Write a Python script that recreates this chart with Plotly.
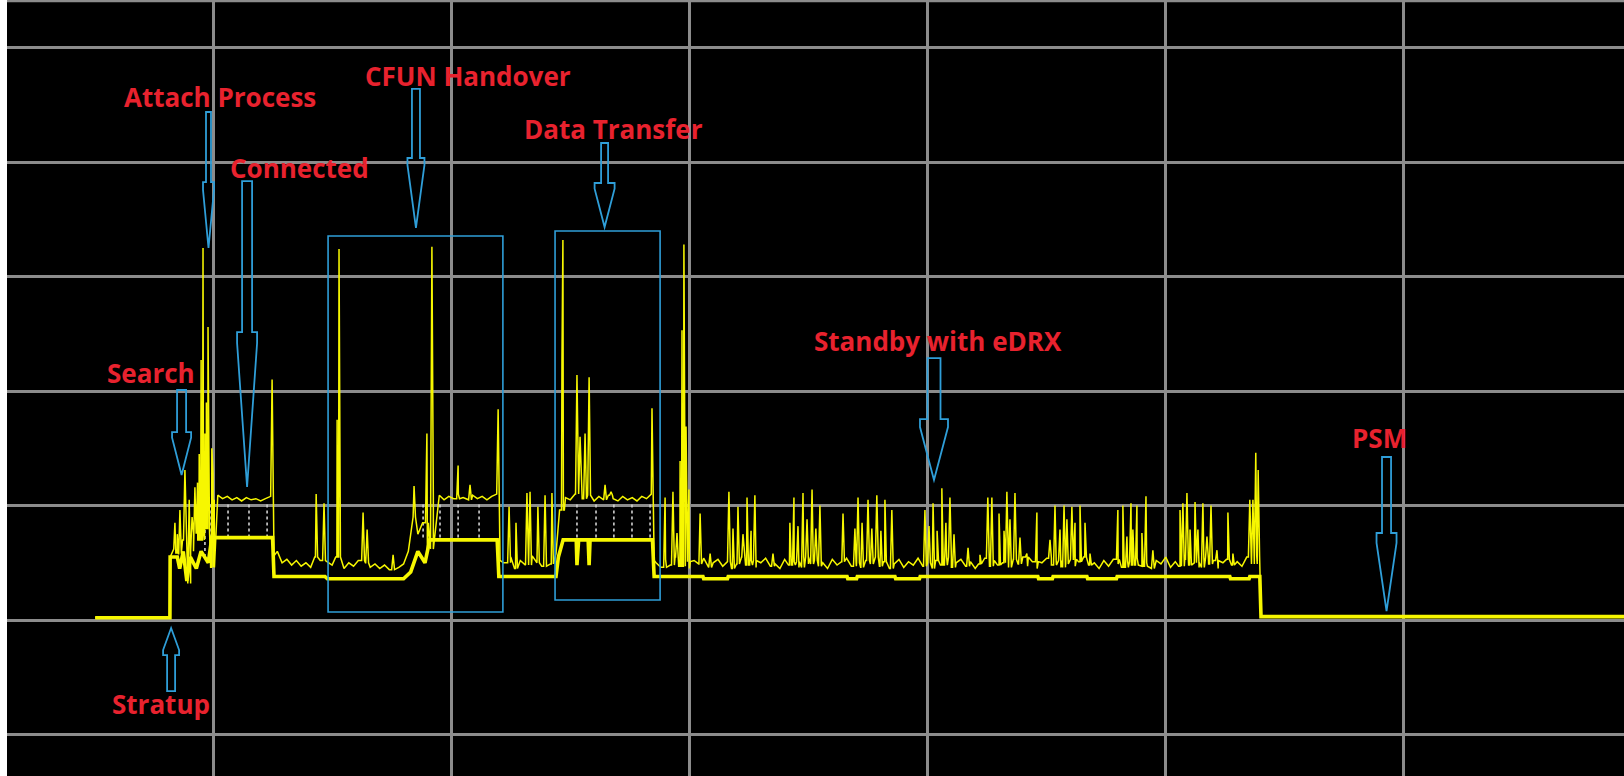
import plotly.graph_objects as go

# ---------------- data (time and current in screen divisions) ----------------
# noise floor of the peak-hold (thin) trace
floor_t = [-0.495, -0.181, -0.180, -0.165, -0.150, -0.128, -0.109, -0.095, -0.080, -0.060,
           -0.035, -0.010, 0.005, 0.020, 0.040, 0.060, 0.080, 0.100, 0.120, 0.140,
           0.160, 0.180, 0.200, 0.220, 0.240, 0.256, 0.270, 0.290, 0.310, 0.330,
           0.350, 0.370, 0.390, 0.410, 0.430, 0.450, 0.470, 0.500, 0.520, 0.550,
           0.570, 0.590, 0.610, 0.640, 0.660, 0.680, 0.700, 0.720, 0.740, 0.760,
           0.780, 0.800, 0.820, 0.840, 0.860, 0.880, 0.900, 0.925, 0.950, 0.970,
           0.990, 1.010, 1.030, 1.050, 1.070, 1.090, 1.110, 1.130, 1.150, 1.170,
           1.190, 1.205, 1.220, 1.250, 1.270, 1.290, 1.310, 1.340, 1.360, 1.380,
           1.400, 1.420, 1.440, 1.455, 1.480, 1.500, 1.520, 1.550, 1.570, 1.600,
           1.620, 1.640, 1.660, 1.680, 1.700, 1.720, 1.740, 1.760, 1.780, 1.800,
           1.820, 1.840, 1.852,
           1.86, 1.88, 1.90, 1.92, 1.94, 1.96, 1.98, 2.00, 2.02, 2.04,
           2.06, 2.08, 2.10, 2.12, 2.14, 2.16, 2.18, 2.20, 2.22, 2.24,
           2.26, 2.28, 2.30, 2.32, 2.34, 2.36, 2.38, 2.40, 2.42, 2.44,
           2.46, 2.48, 2.50, 2.52, 2.54, 2.56, 2.58, 2.60, 2.62, 2.64,
           2.66, 2.68, 2.70, 2.72, 2.74, 2.76, 2.78, 2.80, 2.82, 2.84,
           2.86, 2.88, 2.90, 2.92, 2.94, 2.96, 2.98, 3.00, 3.02, 3.04,
           3.06, 3.08, 3.10, 3.12, 3.14, 3.16, 3.18, 3.20, 3.22, 3.24,
           3.26, 3.28, 3.30, 3.32, 3.34, 3.36, 3.38, 3.40, 3.42, 3.44,
           3.46, 3.48, 3.50, 3.52, 3.54, 3.56, 3.58, 3.60, 3.62, 3.64,
           3.66, 3.68, 3.70, 3.72, 3.74, 3.76, 3.78, 3.80, 3.82, 3.84,
           3.86, 3.88, 3.90, 3.92, 3.94, 3.96, 3.98, 4.00, 4.02, 4.04,
           4.06, 4.08, 4.10, 4.12, 4.14, 4.16, 4.18, 4.20, 4.22, 4.24,
           4.26, 4.28, 4.30, 4.32, 4.34, 4.36, 4.38,
           4.395, 4.400, 5.924]
floor_i = [0.02, 0.02, 0.55, 0.62, 0.58, 0.70, 0.32, 0.60, 0.76, 0.70,
           0.80, 0.46, 1.05, 1.09, 1.06, 1.08, 1.05, 1.07, 1.04, 1.07,
           1.05, 1.06, 1.04, 1.06, 1.08, 0.56, 0.60, 0.50, 0.53, 0.48,
           0.52, 0.47, 0.50, 0.46, 0.55, 0.52, 0.60, 0.48, 0.55, 0.45,
           0.50, 0.47, 0.52, 0.50, 0.46, 0.49, 0.45, 0.48, 0.44, 0.50,
           0.46, 0.49, 0.60, 0.90, 0.75, 0.85, 0.62, 1.06, 1.09, 1.05,
           1.08, 1.06, 1.10, 1.07, 1.05, 1.09, 1.06, 1.08, 1.05, 1.08,
           1.10, 0.52, 0.50, 0.55, 0.45, 0.52, 0.48, 0.56, 0.50, 0.47,
           0.52, 0.49, 0.58, 0.96, 1.07, 1.05, 1.10, 1.06, 1.09, 1.04,
           1.08, 1.05, 1.09, 1.06, 1.04, 1.08, 1.05, 1.07, 1.04, 1.08,
           1.06, 1.10, 0.52,
           0.50, 0.46, 0.53, 0.48, 0.55, 0.47, 0.51, 0.45, 0.52, 0.49,
           0.54, 0.46, 0.50, 0.53, 0.47, 0.51, 0.45, 0.49, 0.55, 0.48,
           0.52, 0.46, 0.50, 0.54, 0.47, 0.49, 0.45, 0.53, 0.48, 0.51,
           0.46, 0.55, 0.49, 0.52, 0.47, 0.50, 0.45, 0.53, 0.48, 0.51,
           0.54, 0.47, 0.50, 0.46, 0.52, 0.49, 0.55, 0.47, 0.51, 0.45,
           0.49, 0.53, 0.46, 0.51, 0.48, 0.54, 0.47, 0.50, 0.45, 0.52,
           0.48, 0.55, 0.46, 0.50, 0.53, 0.47, 0.51, 0.45, 0.49, 0.54,
           0.47, 0.52, 0.48, 0.50, 0.46, 0.53, 0.49, 0.55, 0.47, 0.51,
           0.45, 0.50, 0.54, 0.48, 0.52, 0.46, 0.49, 0.53, 0.47, 0.51,
           0.55, 0.48, 0.50, 0.45, 0.52, 0.47, 0.53, 0.49, 0.46, 0.51,
           0.48, 0.54, 0.47, 0.50, 0.45, 0.52, 0.49, 0.55, 0.46, 0.51,
           0.47, 0.53, 0.48, 0.50, 0.46, 0.54, 0.49, 0.52, 0.45, 0.50,
           0.53, 0.48, 0.51, 0.47, 0.55, 0.49, 0.56,
           0.50, 0.03, 0.03]

# current spikes of the peak-hold trace
spike_t = [-0.160, -0.150, -0.139, -0.118, -0.100, -0.088, -0.076, -0.065, -0.058,
           -0.050, -0.042, -0.034, -0.028, -0.021, -0.005, 0.000,
           0.248, 0.433, 0.466, 0.521, 0.529, 0.630, 0.647, 0.756, 0.844, 0.898, 0.919,
           1.029, 1.079, 1.197, 1.243, 1.272, 1.318, 1.331, 1.364, 1.394, 1.423,
           1.465, 1.469, 1.528, 1.541, 1.562, 1.579, 1.646, 1.671, 1.843,
           1.898, 1.931, 1.948, 1.961, 1.969, 1.977, 1.986, 1.998, 2.045, 2.087,
           2.166, 2.183, 2.204, 2.225, 2.242, 2.259, 2.275, 2.351,
           2.422, 2.439, 2.456, 2.477, 2.494, 2.515, 2.531, 2.548,
           2.645, 2.695, 2.708, 2.725, 2.750, 2.766, 2.787, 2.804, 2.821, 2.850,
           2.989, 3.006, 3.023, 3.040, 3.060, 3.077, 3.094, 3.111, 3.170,
           3.220, 3.253, 3.270, 3.300, 3.321, 3.333, 3.346, 3.367, 3.388, 3.417,
           3.459, 3.514, 3.535, 3.556, 3.573, 3.585, 3.606, 3.619, 3.640, 3.661, 3.682,
           3.799, 3.820, 3.837, 3.854, 3.862, 3.879, 3.900, 3.917, 3.946,
           4.060, 4.072, 4.089, 4.102, 4.123, 4.135, 4.156, 4.173, 4.190, 4.215,
           4.261, 4.282, 4.353, 4.366, 4.378, 4.388]
spike_i = [0.85, 0.75, 0.96, 1.31, 1.05, 0.90, 1.16, 1.20, 1.45,
           2.27, 3.25, 1.63, 1.90, 2.56, 1.50, 1.28,
           2.10, 1.10, 1.02, 1.75, 3.24, 0.94, 0.79, 0.57, 1.17, 1.63, 3.26,
           1.35, 1.18, 1.84, 0.99, 0.85, 1.11, 1.12, 0.99, 1.09, 1.11,
           2.27, 3.32, 2.14, 1.60, 1.63, 2.12, 1.18, 1.12, 1.85,
           1.07, 1.12, 0.76, 1.39, 2.53, 3.28, 1.69, 1.14, 0.93, 0.58,
           1.12, 0.80, 0.99, 0.75, 1.07, 0.78, 1.09, 0.58,
           0.85, 1.07, 0.82, 1.11, 0.88, 1.14, 0.80, 1.00,
           0.93, 0.80, 1.07, 0.85, 1.05, 0.80, 1.09, 0.78, 1.05, 0.96,
           0.96, 0.82, 1.02, 0.78, 1.15, 0.85, 1.07, 0.75, 0.63,
           0.57, 1.07, 1.07, 0.93, 0.78, 1.12, 0.88, 1.11, 0.72, 0.58,
           0.94, 0.70, 1.00, 0.79, 1.00, 0.88, 0.99, 0.85, 1.00, 0.85, 0.58,
           0.96, 1.00, 0.73, 1.02, 0.79, 1.00, 0.76, 1.08, 0.61,
           0.96, 1.02, 1.11, 0.79, 1.03, 0.79, 1.02, 0.73, 1.00, 0.61,
           0.94, 0.58, 1.05, 1.05, 1.46, 1.31]

# minimum (thick) trace
min_t = [-0.495, -0.181, -0.180, -0.150, -0.140, -0.125, -0.110, -0.095, -0.070, -0.050,
         -0.020, -0.005, 0.250, 0.256, 0.470, 0.480, 0.800, 0.830, 0.860, 0.890,
         0.910, 1.193, 1.200, 1.440, 1.450, 1.470, 1.525, 1.528, 1.535, 1.575,
         1.579, 1.583, 1.845, 1.852, 2.057, 2.060, 2.160, 2.163, 2.662, 2.665,
         2.702, 2.705, 2.863, 2.866, 2.966, 2.969, 3.463, 3.466, 3.524, 3.527,
         3.669, 3.672, 3.793, 3.796, 4.269, 4.272, 4.350, 4.353, 4.395, 4.400, 5.924]
min_i = [0.02, 0.02, 0.55, 0.55, 0.45, 0.60, 0.34, 0.55, 0.45, 0.60,
         0.50, 0.72, 0.72, 0.38, 0.38, 0.36, 0.36, 0.42, 0.60, 0.50,
         0.70, 0.70, 0.38, 0.38, 0.55, 0.70, 0.70, 0.48, 0.70, 0.70,
         0.48, 0.70, 0.70, 0.38, 0.38, 0.36, 0.36, 0.38, 0.38, 0.36,
         0.36, 0.38, 0.38, 0.36, 0.36, 0.38, 0.38, 0.36, 0.36, 0.38,
         0.38, 0.36, 0.36, 0.38, 0.38, 0.36, 0.36, 0.38, 0.38, 0.03, 0.03]

# dotted envelope markers
marker_t = [-0.034, -0.013, 0.063, 0.151, 0.227, 0.882, 0.953, 1.029, 1.117,
            1.528, 1.608, 1.683, 1.759, 1.835]
marker_lo = [0.55, 0.72, 0.72, 0.72, 0.72, 0.72, 0.72, 0.72, 0.72,
             0.72, 0.72, 0.72, 0.72, 0.72]
marker_hi = [0.95, 1.02, 1.02, 1.02, 1.02, 1.02, 1.02, 1.02, 1.02,
             1.02, 1.02, 1.02, 1.02, 1.02]

# phase labels: text, x, y
label_text = ["Attach Process", "Connected", "CFUN Handover", "Data Transfer",
              "Search", "Standby with eDRX", "PSM", "Stratup"]
label_x = [0.029, 0.361, 1.071, 1.683, -0.260, 3.044, 4.899, -0.218]
label_y = [4.568, 3.948, 4.751, 4.288, 2.157, 2.437, 1.590, -0.734]

# arrows: centre x, tail y, shoulder y, tip y
arrow_x = [-0.019, 0.143, 0.852, 1.644, -0.132, -0.176, 3.027, 4.927]
arrow_tail = [4.437, 3.834, 4.638, 4.166, 2.009, -0.620, 2.288, 1.424]
arrow_shoulder = [3.825, 2.515, 4.035, 3.817, 1.642, -0.306, 1.755, 0.760]
arrow_tip = [3.249, 1.162, 3.424, 3.432, 1.266, -0.070, 1.223, 0.079]

# highlighted phase boxes: x0, x1, y0, y1
box_x0 = [0.483, 1.436]
box_x1 = [1.217, 1.877]
box_y0 = [0.070, 0.175]
box_y1 = [3.354, 3.397]

# ---------------- styles ----------------
YELLOW = "#f7f700"
GRID = "#8c8c8c"
BLUE = "#2f9ed8"
RED = "#e8222e"
arrow_shaft_hw = [0.0105, 0.021, 0.0168, 0.0147, 0.019, 0.0168, 0.0273, 0.019]
arrow_head_hw = [0.023, 0.042, 0.0357, 0.042, 0.040, 0.0336, 0.0588, 0.042]
arrow_notch = [0.07, 0.096, 0.06, 0.05, 0.05, 0.044, 0.07, 0.087]
SPIKE_W = 0.006

# build the peak-hold trace: floor samples + spikes
pts = list(zip(floor_t, floor_i))
for t, p in zip(spike_t, spike_i):
    base = floor_i[0]
    for ft, fi in zip(floor_t, floor_i):
        if ft <= t:
            base = fi
        else:
            break
    pts += [(t - SPIKE_W, base), (t, p), (t + SPIKE_W, base)]
pts.sort(key=lambda q: q[0])
max_t = [q[0] for q in pts]
max_i = [q[1] for q in pts]

fig = go.Figure()

mx, my = [], []
for t, lo, hi in zip(marker_t, marker_lo, marker_hi):
    mx += [t, t, None]
    my += [lo, hi, None]
fig.add_trace(go.Scatter(x=mx, y=my, mode="lines",
                         line=dict(color="#d0d0d0", width=1.6, dash="dot"),
                         hoverinfo="skip"))
fig.add_trace(go.Scatter(x=max_t, y=max_i, mode="lines",
                         line=dict(color=YELLOW, width=1.5), hoverinfo="skip"))
fig.add_trace(go.Scatter(x=min_t, y=min_i, mode="lines",
                         line=dict(color=YELLOW, width=3.6), hoverinfo="skip"))


def arrow_path(xc, y_tail, y_sh, y_tip, shw, hhw, notch):
    s = 1 if y_tip > y_sh else -1
    y_n = y_sh + s * notch
    p = [(xc - shw, y_tail), (xc + shw, y_tail), (xc + shw, y_sh), (xc + hhw, y_sh),
         (xc + hhw, y_n), (xc, y_tip), (xc - hhw, y_n), (xc - hhw, y_sh), (xc - shw, y_sh)]
    return "M " + " L ".join(f"{a:.4f},{b:.4f}" for a, b in p) + " Z"


shapes = []
for i in range(len(arrow_x)):
    shapes.append(dict(type="path", xref="x", yref="y",
                       path=arrow_path(arrow_x[i], arrow_tail[i], arrow_shoulder[i], arrow_tip[i],
                                       arrow_shaft_hw[i], arrow_head_hw[i], arrow_notch[i]),
                       line=dict(color=BLUE, width=1.8), fillcolor="rgba(0,0,0,0)"))
for x0, x1, y0, y1 in zip(box_x0, box_x1, box_y0, box_y1):
    shapes.append(dict(type="rect", xref="x", yref="y", x0=x0, x1=x1, y0=y0, y1=y1,
                       line=dict(color=BLUE, width=1.6), fillcolor="rgba(0,0,0,0)"))
shapes.append(dict(type="line", xref="paper", yref="paper", x0=0, x1=1, y0=0.999, y1=0.999,
                   line=dict(color=GRID, width=3)))

annotations = [dict(x=x, y=y, xref="x", yref="y", text=t, showarrow=False,
                    xanchor="center", yanchor="middle",
                    font=dict(family="Open Sans", size=26, color=RED, weight="bold"))
               for t, x, y in zip(label_text, label_x, label_y)]

axis_common = dict(showgrid=True, gridcolor=GRID, gridwidth=3, showticklabels=False,
                   ticks="", zeroline=True, zerolinecolor=GRID, zerolinewidth=3,
                   showline=False, tick0=0, dtick=1, fixedrange=True)
fig.update_layout(
    width=1624, height=776,
    margin=dict(l=7, r=0, t=0, b=0),
    paper_bgcolor="white", plot_bgcolor="black",
    showlegend=False, hovermode=False,
    xaxis=dict(range=[-0.865, 5.924], **axis_common),
    yaxis=dict(range=[-1.362, 5.415], **axis_common),
    shapes=shapes, annotations=annotations,
)
fig.write_html("out.html", config={"displayModeBar": False},
               post_script="document.body.style.margin='0';document.body.style.overflow='hidden';")
